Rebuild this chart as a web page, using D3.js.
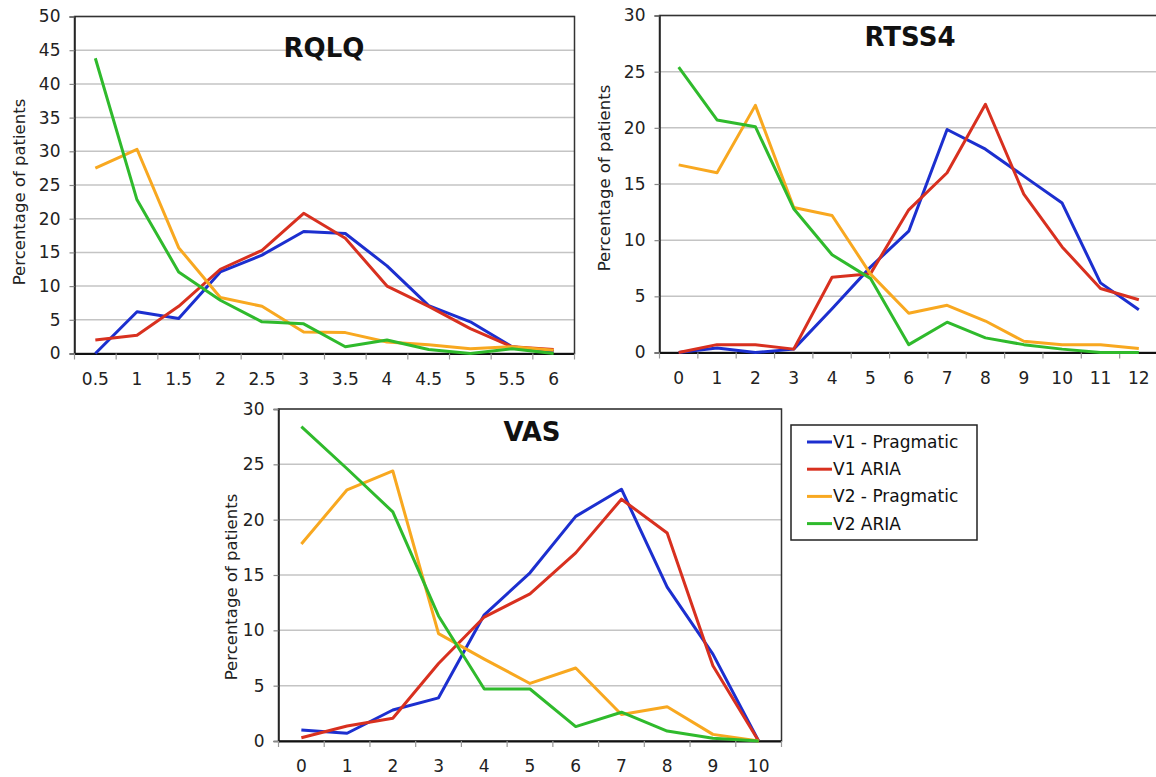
<!DOCTYPE html>
<html>
<head>
<meta charset="utf-8">
<script src="https://cdn.jsdelivr.net/npm/d3@7/dist/d3.min.js"></script>
<style>
  body { margin: 0; background: #fff; }
  svg { display: block; font-family: "DejaVu Sans", Verdana, sans-serif; }
</style>
</head>
<body>
<div id="chart"></div>
<script>
// series names and colours
var seriesNames = ["V1 - Pragmatic", "V1 ARIA", "V2 - Pragmatic", "V2 ARIA"];
var seriesColors = ["#1c2fcf", "#d8301f", "#f8a820", "#2fba2c"];

// RQLQ
var rqlqCats = ["0.5", "1", "1.5", "2", "2.5", "3", "3.5", "4", "4.5", "5", "5.5", "6"];
var rqlqV1Prag = [0, 6.2, 5.2, 12.1, 14.6, 18.1, 17.8, 13.0, 7.1, 4.7, 1.0, 0.3];
var rqlqV1Aria = [2.0, 2.7, 7.0, 12.5, 15.3, 20.8, 17.1, 10.0, 7.0, 3.7, 1.0, 0.6];
var rqlqV2Prag = [27.5, 30.3, 15.7, 8.3, 7.0, 3.2, 3.1, 1.7, 1.3, 0.7, 1.0, 0.5];
var rqlqV2Aria = [43.8, 22.8, 12.1, 7.9, 4.7, 4.4, 1.0, 2.0, 0.6, 0, 0.7, 0];
var rqlqTicks = [0, 5, 10, 15, 20, 25, 30, 35, 40, 45, 50];

// RTSS4
var rtssCats = ["0", "1", "2", "3", "4", "5", "6", "7", "8", "9", "10", "11", "12"];
var rtssV1Prag = [0, 0.4, 0, 0.3, 3.9, 7.6, 10.8, 19.85, 18.1, 15.7, 13.3, 6.2, 3.8];
var rtssV1Aria = [0, 0.7, 0.7, 0.3, 6.7, 7.0, 12.7, 16.0, 22.1, 14.1, 9.4, 5.7, 4.7];
var rtssV2Prag = [16.7, 16.0, 22.0, 12.9, 12.2, 7.0, 3.5, 4.2, 2.8, 1.0, 0.7, 0.7, 0.35];
var rtssV2Aria = [25.4, 20.7, 20.1, 12.8, 8.7, 6.6, 0.7, 2.7, 1.3, 0.7, 0.3, 0, 0];
var rtssTicks = [0, 5, 10, 15, 20, 25, 30];

// VAS
var vasCats = ["0", "1", "2", "3", "4", "5", "6", "7", "8", "9", "10"];
var vasV1Prag = [1.0, 0.7, 2.8, 3.9, 11.4, 15.2, 20.3, 22.75, 13.9, 7.85, 0];
var vasV1Aria = [0.3, 1.35, 2.05, 7.0, 11.2, 13.3, 17.0, 21.85, 18.8, 6.8, 0];
var vasV2Prag = [17.8, 22.7, 24.4, 9.7, 7.4, 5.2, 6.6, 2.4, 3.1, 0.6, 0];
var vasV2Aria = [28.4, 24.6, 20.7, 11.3, 4.7, 4.7, 1.3, 2.6, 0.9, 0.25, 0];
var vasTicks = [0, 5, 10, 15, 20, 25, 30];

var yTitle = "Percentage of patients";

var svg = d3.select("#chart").append("svg")
  .attr("width", 1156)
  .attr("height", 777);

function drawPanel(p){
  var x = d3.scaleBand()
    .domain(p.cats)
    .range([p.left, p.right]);
  var y = d3.scaleLinear()
    .domain([0, d3.max(p.ticks)])
    .range([p.bottom, p.top]);

  var g = svg.append("g");

  // gridlines
  g.append("g").selectAll("line")
    .data(p.ticks.slice(1))
    .enter().append("line")
    .attr("x1", p.left).attr("x2", p.right)
    .attr("y1", d => y(d)).attr("y2", d => y(d))
    .attr("stroke", "#c4c4c4")
    .attr("stroke-width", 1.5);

  // frame
  g.append("rect")
    .attr("x", p.left).attr("y", p.top)
    .attr("width", p.right - p.left).attr("height", p.bottom - p.top)
    .attr("fill", "none")
    .attr("stroke", "#333")
    .attr("stroke-width", 1.5);

  // y axis
  var ya = g.append("g")
    .attr("transform", "translate(" + p.left + ",0)")
    .call(d3.axisLeft(y).tickValues(p.ticks).tickSize(5).tickPadding(9));
  ya.select(".domain").attr("stroke", "#222").attr("stroke-width", 1.5);
  ya.selectAll(".tick line").attr("stroke", "#888").attr("stroke-width", 1.2);
  ya.selectAll("text").attr("font-size", 17).attr("fill", "#222")
    .attr("font-family", "DejaVu Sans, Verdana, sans-serif");

  // x axis: labels at band centres, tick marks at band edges
  var xa = g.append("g")
    .attr("transform", "translate(0," + p.bottom + ")")
    .call(d3.axisBottom(x).tickSize(0).tickPadding(19));
  xa.select(".domain").attr("stroke", "#111").attr("stroke-width", 2);
  xa.selectAll("text").attr("font-size", 17).attr("fill", "#222")
    .attr("font-family", "DejaVu Sans, Verdana, sans-serif");

  var edges = d3.range(p.cats.length + 1).map(i => x.range()[0] + i * x.step());
  g.append("g").selectAll("line")
    .data(edges)
    .enter().append("line")
    .attr("x1", d => d).attr("x2", d => d)
    .attr("y1", p.bottom).attr("y2", p.bottom + 6)
    .attr("stroke", "#999")
    .attr("stroke-width", 1.2);

  // lines
  var line = d3.line()
    .x((d, i) => x(p.cats[i]) + x.bandwidth() / 2)
    .y(d => y(d));

  g.append("g").selectAll("path")
    .data(p.series)
    .enter().append("path")
    .attr("d", d => line(d))
    .attr("fill", "none")
    .attr("stroke", (d, i) => seriesColors[i])
    .attr("stroke-width", 3)
    .attr("stroke-linejoin", "round");

  // title
  g.append("text")
    .attr("x", p.titleX).attr("y", p.titleY)
    .attr("text-anchor", "middle")
    .attr("font-size", 26)
    .attr("font-weight", "bold")
    .attr("fill", "#111")
    .text(p.title);

  // y axis title
  g.append("text")
    .attr("transform", "translate(" + p.yTitleX + "," + p.yTitleY + ") rotate(-90)")
    .attr("text-anchor", "middle")
    .attr("font-size", 16.5)
    .attr("fill", "#222")
    .text(yTitle);
}

drawPanel({
  cats: rqlqCats, ticks: rqlqTicks,
  series: [rqlqV1Prag, rqlqV1Aria, rqlqV2Prag, rqlqV2Aria],
  left: 74.5, right: 574.5, top: 16.5, bottom: 353.5,
  title: "RQLQ", titleX: 324, titleY: 57,
  yTitleX: 25, yTitleY: 192
});

drawPanel({
  cats: rtssCats, ticks: rtssTicks,
  series: [rtssV1Prag, rtssV1Aria, rtssV2Prag, rtssV2Aria],
  left: 659.5, right: 1158, top: 15.5, bottom: 352.5,
  title: "RTSS4", titleX: 910, titleY: 46,
  yTitleX: 610, yTitleY: 178
});

drawPanel({
  cats: vasCats, ticks: vasTicks,
  series: [vasV1Prag, vasV1Aria, vasV2Prag, vasV2Aria],
  left: 278.5, right: 781.5, top: 409, bottom: 741,
  title: "VAS", titleX: 532, titleY: 441,
  yTitleX: 237, yTitleY: 587
});

// legend
var legend = svg.append("g");
legend.append("rect")
  .attr("x", 791).attr("y", 425)
  .attr("width", 186).attr("height", 115)
  .attr("fill", "#fff")
  .attr("stroke", "#222")
  .attr("stroke-width", 1.5);

var rows = legend.selectAll("g.row")
  .data(seriesNames)
  .enter().append("g")
  .attr("class", "row")
  .attr("transform", (d, i) => "translate(807," + (442 + i * 27.2) + ")");

rows.append("line")
  .attr("x1", 0).attr("x2", 25)
  .attr("stroke", (d, i) => seriesColors[i])
  .attr("stroke-width", 3);

rows.append("text")
  .attr("x", 26).attr("y", 6)
  .attr("font-size", 17)
  .attr("fill", "#111")
  .text(d => d);
</script>
</body>
</html>
